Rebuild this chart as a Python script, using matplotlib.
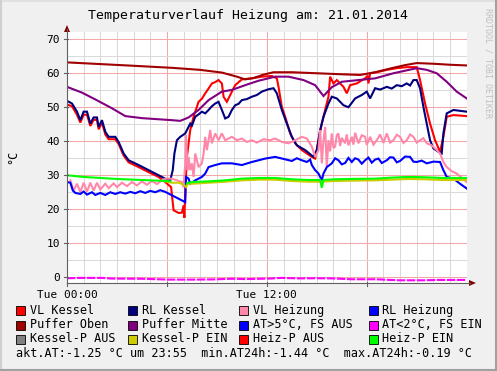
import matplotlib
matplotlib.use("Agg")
import matplotlib.pyplot as plt
from matplotlib.patches import Rectangle, Polygon
from matplotlib.lines import Line2D
import numpy as np

W, H = 497, 371
MONO = "DejaVu Sans Mono"

title = "Temperaturverlauf Heizung am: 21.01.2014"
x_tick_pos = [0, 12]
x_tick_labels = ["Tue 00:00", "Tue 12:00"]
y_ticks = [0, 10, 20, 30, 40, 50, 60, 70]
y_label = "°C"
footer = "akt.AT:-1.25 °C um 23:55  min.AT24h:-1.44 °C  max.AT24h:-0.19 °C"
credit = "RRDTOOL / TOBI OETIKER"

# (hour, value) pairs per series
vl_kessel = [(0, 50.8), (0.3, 50.3), (0.6, 47.8), (0.8, 45.5), (1.0, 47.8), (1.2, 47.8), (1.4, 44.5),
             (1.6, 46.3), (1.8, 46.3), (1.9, 43.5), (2.1, 45.5), (2.3, 42.0), (2.5, 40.6), (2.9, 40.6),
             (3.1, 39.2), (3.4, 35.8), (3.7, 33.8), (4.3, 32.4), (4.9, 30.9), (5.5, 29.5), (5.9, 28.0),
             (6.25, 26.5), (6.4, 19.7), (6.7, 18.9), (6.9, 19.0), (7.0, 21.1), (7.05, 17.5), (7.1, 25.6),
             (7.2, 35.4), (7.4, 43.3), (7.6, 47.2), (7.9, 51.6), (8.1, 52.5), (8.3, 54.1), (8.5, 55.5),
             (8.7, 57.0), (8.9, 57.4), (9.1, 58.0), (9.3, 57.0), (9.4, 53.1), (9.6, 51.6), (9.8, 53.6),
             (10.1, 56.5), (10.5, 58.2), (11.1, 58.5), (11.7, 59.0), (12.3, 59.2), (12.6, 58.5),
             (12.7, 56.0), (12.9, 50.1), (13.1, 47.2), (13.4, 42.3), (13.7, 39.4), (14.1, 37.4),
             (14.7, 35.4), (14.9, 34.9), (15.1, 40.3), (15.3, 45.2), (15.5, 49.2), (15.7, 53.1),
             (15.8, 59.0), (16.0, 57.0), (16.2, 58.0), (16.6, 56.0), (16.8, 54.1), (17.0, 56.5),
             (17.4, 57.0), (17.9, 58.5), (18.05, 59.3), (18.1, 57.0), (18.2, 60.0), (18.6, 60.3),
             (19.2, 61.0), (19.8, 61.5), (20.4, 61.8), (21.0, 61.8), (21.2, 58.0), (21.5, 51.1),
             (21.8, 45.2), (22.1, 40.3), (22.4, 36.9), (22.6, 41.3), (22.8, 47.2), (23.2, 47.7),
             (24.0, 47.4)]

rl_kessel = [(0, 51.9), (0.3, 51.1), (0.6, 48.7), (0.8, 46.2), (1.0, 48.7), (1.2, 48.7), (1.4, 45.2),
             (1.6, 47.0), (1.8, 47.0), (1.9, 44.2), (2.1, 46.2), (2.3, 42.8), (2.5, 41.3), (2.9, 41.3),
             (3.1, 39.8), (3.4, 36.4), (3.7, 34.4), (4.3, 33.0), (4.9, 31.5), (5.5, 30.0), (5.9, 29.0),
             (6.2, 28.5), (6.35, 31.5), (6.45, 36.4), (6.6, 40.3), (6.8, 41.3), (7.1, 42.3), (7.4, 45.2),
             (7.5, 44.6), (7.7, 47.2), (7.9, 47.9), (8.1, 48.7), (8.3, 48.2), (8.5, 49.2), (8.7, 50.3),
             (8.9, 51.1), (9.1, 51.6), (9.3, 49.2), (9.5, 46.7), (9.7, 47.2), (9.9, 49.2), (10.1, 50.6),
             (10.3, 51.0), (10.5, 52.1), (10.8, 52.4), (11.1, 53.1), (11.4, 53.6), (11.7, 54.6),
             (12.1, 55.3), (12.4, 55.6), (12.6, 54.1), (12.9, 49.2), (13.2, 45.2), (13.5, 41.3),
             (13.8, 38.8), (14.3, 37.4), (14.8, 35.4), (15.0, 37.4), (15.2, 43.3), (15.4, 47.2),
             (15.7, 51.1), (15.9, 53.1), (16.2, 52.6), (16.6, 50.6), (16.9, 50.0), (17.3, 52.6),
             (17.7, 53.6), (18.0, 54.6), (18.2, 52.6), (18.5, 55.6), (18.8, 55.2), (19.2, 56.0),
             (19.5, 55.5), (19.8, 56.5), (20.1, 56.2), (20.4, 57.0), (20.6, 56.4), (20.8, 58.0),
             (21.0, 58.0), (21.2, 55.6), (21.4, 50.1), (21.6, 45.2), (21.8, 40.3), (22.0, 37.9),
             (22.3, 36.9), (22.5, 36.4), (22.6, 42.3), (22.8, 48.2), (23.2, 49.2), (24.0, 48.7)]

vl_heizung = [(0.2, 28.5), (0.4, 25.5), (0.6, 27.5), (0.8, 25.0), (1.0, 27.8), (1.2, 25.2), (1.4, 27.8),
              (1.6, 25.5), (1.8, 27.8), (2.0, 25.8), (2.3, 27.5), (2.5, 26.2), (2.8, 27.6), (3.0, 26.5),
              (3.3, 27.8), (3.6, 26.8), (3.9, 28.0), (4.2, 27.0), (4.5, 28.2), (4.8, 27.2), (5.1, 28.3),
              (5.4, 27.4), (5.7, 28.5), (5.9, 29.0), (6.3, 29.0), (6.9, 28.0), (7.0, 26.5), (7.1, 33.5),
              (7.14, 41.8), (7.24, 31.5), (7.3, 35.4), (7.4, 31.5), (7.5, 33.5), (7.6, 29.5), (7.7, 36.4),
              (7.9, 32.4), (8.1, 33.5), (8.2, 36.4), (8.3, 41.3), (8.4, 37.4), (8.6, 43.3), (8.7, 39.4),
              (8.9, 42.3), (9.1, 40.3), (9.3, 42.3), (9.5, 40.3), (9.9, 41.3), (10.2, 40.3), (10.5, 40.8),
              (10.8, 39.8), (11.1, 40.3), (11.4, 39.6), (11.8, 40.6), (12.2, 40.3), (12.5, 40.8),
              (12.9, 39.8), (13.3, 39.4), (13.7, 40.3), (14.1, 41.3), (14.4, 40.8), (14.7, 38.4),
              (14.9, 35.4), (15.1, 37.4), (15.2, 43.3), (15.3, 33.5), (15.4, 40.3), (15.5, 44.2),
              (15.6, 32.4), (15.7, 40.3), (15.8, 37.0), (15.9, 42.3), (16.0, 38.0), (16.1, 38.4),
              (16.2, 41.8), (16.3, 42.3), (16.4, 38.6), (16.5, 41.0), (16.7, 39.4), (16.8, 42.0),
              (16.9, 38.8), (17.1, 41.3), (17.2, 39.0), (17.3, 42.5), (17.5, 39.4), (17.7, 41.8),
              (17.9, 41.3), (18.0, 38.9), (18.2, 41.3), (18.4, 39.0), (18.6, 40.3), (18.8, 42.0),
              (19.0, 39.5), (19.2, 42.3), (19.4, 39.6), (19.6, 40.3), (19.8, 41.9), (20.0, 41.3),
              (20.2, 39.5), (20.4, 40.3), (20.6, 42.0), (20.8, 41.3), (21.0, 39.6), (21.2, 40.3),
              (21.4, 40.9), (21.6, 39.4), (21.9, 38.8), (22.2, 37.4), (22.4, 36.4), (22.6, 33.9),
              (22.8, 32.4), (23.1, 31.2), (23.4, 30.5), (23.7, 29.3), (24.0, 28.0)]

rl_heizung = [(0, 28.0), (0.2, 27.8), (0.35, 25.5), (0.5, 24.8), (0.8, 24.5), (1.0, 25.2), (1.2, 24.3),
              (1.5, 25.0), (1.7, 24.2), (2.0, 24.8), (2.3, 24.2), (2.6, 25.0), (2.9, 24.5), (3.2, 25.0),
              (3.5, 24.6), (3.8, 25.1), (4.1, 24.7), (4.4, 25.3), (4.7, 24.8), (5.0, 25.4), (5.3, 25.0),
              (5.6, 25.6), (5.9, 25.1), (6.3, 24.1), (6.7, 23.1), (7.1, 22.1), (7.15, 29.5), (7.3, 29.0),
              (7.4, 27.5), (7.7, 28.5), (8.1, 29.5), (8.3, 30.5), (8.5, 32.4), (8.9, 33.0), (9.3, 33.5),
              (9.9, 33.5), (10.5, 33.0), (11.1, 33.9), (11.9, 34.9), (12.5, 35.4), (13.0, 34.8),
              (13.5, 34.2), (13.8, 35.0), (14.1, 34.4), (14.4, 33.9), (14.6, 34.6), (14.7, 33.0),
              (14.9, 31.5), (15.1, 30.5), (15.3, 28.5), (15.4, 30.5), (15.6, 32.4), (15.9, 33.5),
              (16.1, 35.0), (16.3, 34.4), (16.5, 33.2), (16.7, 33.6), (16.9, 35.1), (17.1, 33.9),
              (17.3, 35.0), (17.5, 34.6), (17.7, 33.4), (17.9, 34.4), (18.1, 35.2), (18.3, 33.7),
              (18.5, 34.6), (18.7, 34.9), (18.9, 33.6), (19.2, 34.4), (19.4, 35.3), (19.6, 35.2),
              (19.8, 33.8), (20.0, 34.2), (20.3, 35.5), (20.6, 35.4), (20.8, 34.0), (21.0, 33.9),
              (21.3, 34.3), (21.6, 33.5), (22.0, 34.0), (22.4, 33.9), (22.6, 31.5), (22.8, 29.5),
              (23.2, 29.0), (23.6, 27.5), (24.0, 26.1)]

puffer_oben = [(0, 63.2), (2, 62.7), (4, 62.2), (6.3, 61.6), (8, 61.0), (9.3, 60.2), (10.2, 59.0),
               (10.7, 58.2), (11.2, 58.6), (11.8, 59.6), (12.4, 60.3), (13.5, 60.3), (15, 60.0),
               (16.5, 59.7), (17.6, 59.5), (18.5, 60.3), (19.5, 61.5), (20.3, 62.4), (21, 63.0),
               (22, 62.8), (23, 62.5), (24, 62.3)]

puffer_mitte = [(0, 56.0), (0.9, 54.3), (1.7, 52.3), (2.7, 49.7), (3.5, 47.4), (4.5, 46.8), (6.3, 46.2),
                (6.8, 46.0), (7.3, 47.0), (7.9, 49.2), (8.5, 52.1), (9.3, 54.6), (9.9, 55.1), (10.7, 56.5),
                (11.5, 57.8), (12.5, 59.0), (13.3, 59.0), (14.2, 58.0), (14.9, 56.5), (15.4, 53.3),
                (15.9, 55.9), (16.5, 57.5), (17.5, 58.0), (18.5, 58.5), (19.6, 60.0), (21.0, 61.5),
                (21.6, 61.0), (22.2, 60.0), (22.8, 57.5), (23.4, 54.6), (24.0, 52.6)]

aussen_temp = [(0, -0.3), (0.8, -0.2), (2.1, -0.2), (2.7, -0.4), (4.5, -0.45), (6.1, -0.7), (7.5, -0.7),
               (8.7, -0.65), (9.9, -0.45), (10.7, -0.55), (12.1, -0.4), (12.9, -0.2), (13.9, -0.35),
               (14.9, -0.3), (15.9, -0.35), (17.1, -0.6), (18.5, -0.6), (19.9, -0.9), (21.5, -0.9),
               (22.3, -0.8), (24.0, -0.8)]

kessel_p_ein = [(5.9, 28.2), (6.3, 27.8), (6.7, 27.8), (7.0, 27.3), (7.15, 26.5), (7.25, 27.5), (7.5, 27.5),
                (8.5, 27.8), (9.5, 28.1), (10.5, 28.5), (11.5, 28.7), (12.5, 28.7), (13.5, 28.3),
                (14.5, 28.1), (15.3, 28.1), (16, 28.3), (17, 28.4), (18.5, 28.5), (19.5, 28.7),
                (20.5, 28.9), (21.5, 28.8), (22.5, 28.6), (24, 28.6)]

heiz_p_ein_a = [(0, 30.0), (1, 29.5), (2, 29.2), (3, 28.9), (4, 28.7), (5, 28.5), (6.0, 28.3), (6.2, 28.2)]
heiz_p_ein_b = [(7.2, 27.6), (7.5, 28.0), (8.5, 28.2), (9.5, 28.5), (10.5, 29.0), (11.5, 29.2), (12.5, 29.2),
                (13.5, 28.8), (14.5, 28.6), (15.2, 28.6), (15.3, 26.3), (15.4, 28.6), (16.0, 28.8),
                (17.0, 28.9), (18.5, 29.0), (19.5, 29.3), (20.5, 29.5), (21.5, 29.4), (22.5, 29.2),
                (23.5, 29.2), (24.0, 29.2)]

legend_rows = [
    [("VL Kessel", "#ff0000"), ("RL Kessel", "#000080"), ("VL Heizung", "#ff88aa"), ("RL Heizung", "#0000ff")],
    [("Puffer Oben", "#a00000"), ("Puffer Mitte", "#800080"), ("AT>5°C, FS AUS", "#0000ff"), ("AT<2°C, FS EIN", "#ff00ff")],
    [("Kessel-P AUS", "#808080"), ("Kessel-P EIN", "#cccc00"), ("Heiz-P AUS", "#ff0000"), ("Heiz-P EIN", "#00ff00")],
]

# ---------------- layout ----------------
BG = "#f0f0f0"
fig = plt.figure(figsize=(W / 100, H / 100), dpi=100, facecolor=BG)
L, R, T, B = 67, 466.7, 32.3, 283.0
ax = fig.add_axes([L / W, 1 - B / H, (R - L) / W, (B - T) / H])
ax.set_facecolor("white")
ax.set_xlim(0, 24)
ax.set_ylim(-1.7, 72.05)
for s in ax.spines.values():
    s.set_visible(False)

# grid
for h in range(1, 24):
    major = h % 6 == 0
    ax.axvline(h, color="#f2a8a8" if major else "#dadada", lw=0.75, zorder=1)
for v in range(0, 71, 5):
    major = v % 10 == 0
    ax.axhline(v, color="#f2a8a8" if major else "#dadada", lw=0.75, zorder=1)

lw = 1.5
def plot(pairs, color, **kw):
    t, v = zip(*pairs)
    ax.plot(t, v, color=color, lw=lw, solid_joinstyle="miter", zorder=3, **kw)

plot(vl_kessel, "#ff0000")
plot(rl_kessel, "#000080")
plot(vl_heizung, "#ff88aa")
plot(rl_heizung, "#0000ff")
plot(puffer_oben, "#a00000")
plot(puffer_mitte, "#800080")
plot(aussen_temp, "#ff00ff", linestyle=(0, (4, 0.8)))
plot(kessel_p_ein, "#cccc00")
plot(heiz_p_ein_a, "#00ff00")
plot(heiz_p_ein_b, "#00ff00")

# ticks
ax.set_xticks(x_tick_pos)
ax.set_xticklabels(x_tick_labels)
ax.set_yticks(y_ticks)
ax.tick_params(axis="both", length=0, pad=5, labelsize=8, colors="#000000")
for lab in ax.get_xticklabels() + ax.get_yticklabels():
    lab.set_family(MONO)

def fx(x):
    return x / W
def fy(y):
    return 1 - y / H

axis_col = "#606060"
arrow_col = "#7f0000"
# axis lines
fig.add_artist(Line2D([fx(L), fx(470)], [fy(B), fy(B)], color=axis_col, lw=0.8))
fig.add_artist(Line2D([fx(L), fx(L)], [fy(B), fy(29)], color=axis_col, lw=0.8))
# major ticks
for h in [0, 6, 12, 18]:
    xx = L + (R - L) * h / 24
    fig.add_artist(Line2D([fx(xx), fx(xx)], [fy(B - 1), fy(B + 3)], color=axis_col, lw=0.8))
for v in y_ticks:
    yy = B - (B - T) * (v + 1.7) / (72.05 + 1.7)
    fig.add_artist(Line2D([fx(L - 3), fx(L + 1)], [fy(yy), fy(yy)], color=axis_col, lw=0.8))
# arrows
fig.add_artist(Polygon([(fx(L - 3), fy(32)), (fx(L + 3), fy(32)), (fx(L), fy(25))], closed=True,
                       color=arrow_col, lw=0))
fig.add_artist(Polygon([(fx(469), fy(B - 3)), (fx(469), fy(B + 3)), (fx(476), fy(B))], closed=True,
                       color=arrow_col, lw=0))

# texts
fig.text(fx(248), fy(16), title, ha="center", va="center", fontsize=9.5, family=MONO)
fig.text(fx(13), fy(157), y_label, rotation=90, ha="center", va="center", fontsize=8.5, family=MONO)
fig.text(fx(488), fy(8), credit, rotation=270, ha="center", va="top", fontsize=6, family=MONO,
         color="#c0c0c0")

# legend
row_y = [310.7, 325.0, 339.0]
box_x = [16, 128.3, 239.3, 368.5]
for r, row in enumerate(legend_rows):
    for c, (label, col) in enumerate(row):
        fig.add_artist(Rectangle((fx(box_x[c]), fy(row_y[r] + 4.5)), 9 / W, 9 / H, facecolor=col,
                                 edgecolor="#000000", lw=0.6))
        fig.text(fx(box_x[c] + 13.5), fy(row_y[r]), label, ha="left", va="center", fontsize=8.45,
                 family=MONO)
fig.text(fx(16), fy(353.3), footer, ha="left", va="center", fontsize=8.45, family=MONO)

# frame
fig.add_artist(Line2D([0, 1], [fy(0.5), fy(0.5)], color="#e0e0e0", lw=1.5))
fig.add_artist(Line2D([fx(0.5), fx(0.5)], [0, 1], color="#d0d0d0", lw=1.5))
fig.add_artist(Line2D([0, 1], [fy(370), fy(370)], color="#a0a0a0", lw=1.5))
fig.add_artist(Line2D([fx(496), fx(496)], [0, 1], color="#a0a0a0", lw=1.5))

fig.savefig("out.png", dpi=100, facecolor=BG)
